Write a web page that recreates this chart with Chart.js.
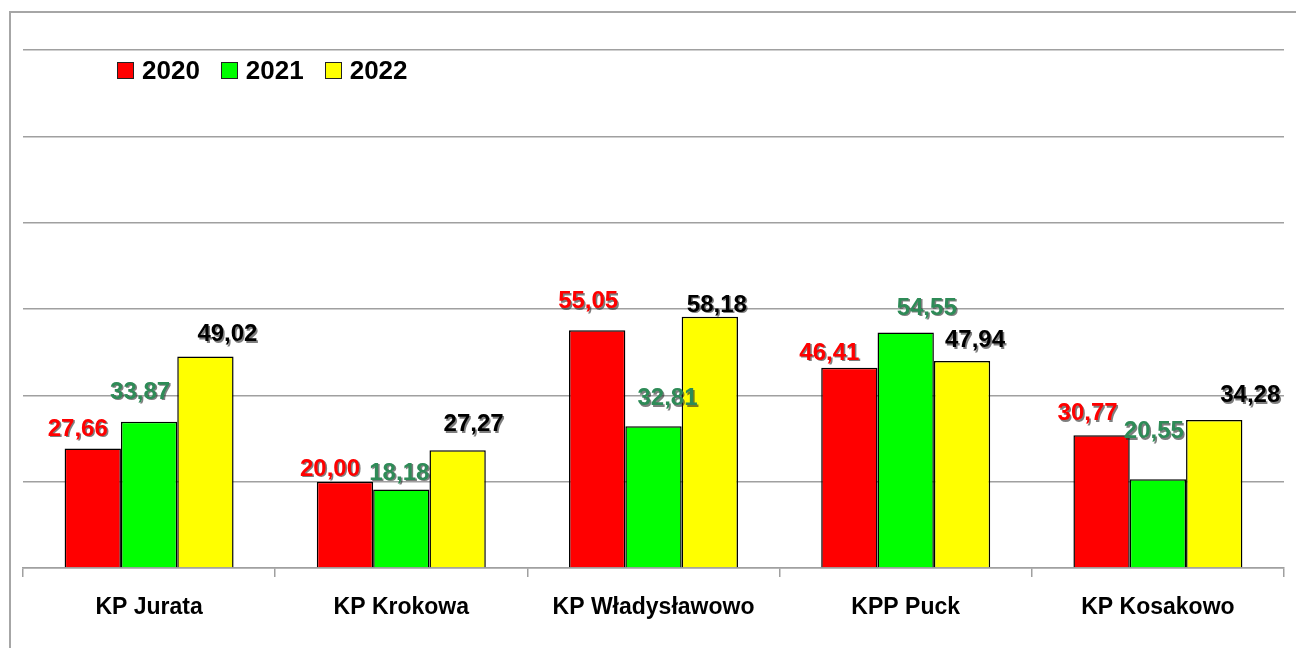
<!DOCTYPE html>
<html>
<head>
<meta charset="utf-8">
<script src="https://cdn.jsdelivr.net/npm/chart.js@4/dist/chart.umd.min.js"></script>
<style>
  body { margin: 0; background: #fff; }
  #wrap { position: relative; width: 1296px; height: 648px; overflow: hidden; }
  #frame { position: absolute; left: 9px; top: 11px; width: 1400px; height: 800px;
           border-left: 2px solid #a6a6a6; border-top: 2px solid #a6a6a6; }
  #legend { position: absolute; left: 117px; top: 55px; display: flex; align-items: center;
            font: bold 26px 'Liberation Sans', Arial, sans-serif; color: #000; }
  #legend span.box { display: inline-block; width: 15px; height: 15px; border: 1px solid #222;
                     margin-right: 8px; }
  #legend span.item { display: inline-flex; align-items: center; margin-right: 21px; }
</style>
</head>
<body>
<div id="wrap">
  <div id="frame"></div>
  <canvas id="myChart" width="1296" height="648"></canvas>
  <div id="legend"></div>
</div>
<script>
var categories = ['KP Jurata', 'KP Krokowa', 'KP Władysławowo', 'KPP Puck', 'KP Kosakowo'];
var years = ['2020', '2021', '2022'];
var values2020 = [27.66, 20.00, 55.05, 46.41, 30.77];
var values2021 = [33.87, 18.18, 32.81, 54.55, 20.55];
var values2022 = [49.02, 27.27, 58.18, 47.94, 34.28];

var barColors = ['#ff0000', '#00ff00', '#ffff00'];
var labelColors = ['#ff0000', '#2e8b57', '#000000'];
// manual nudges of the value labels, like in the original sheet
var labelDx = [[-15, -15, -9, -20, -14], [-9, -2, 14, 21, -4], [22, 16, 7, 13, 36]];
var labelGap = [[13, 6, 22, 8, 15], [23, 10, 21, 18, 41], [15, 19, 5, 14, 18]];

var seriesValues = [values2020, values2021, values2022];

// legend
var legendHtml = '';
years.forEach(function(y, i) {
    legendHtml += '<span class="item"><span class="box" style="background:' + barColors[i] + '"></span>' + y + '</span>';
});
document.getElementById('legend').innerHTML = legendHtml;

var valueLabels = {
    id: 'valueLabels',
    afterDatasetsDraw: function(chart) {
        var ctx = chart.ctx;
        ctx.save();
        ctx.font = 'bold 24px "Liberation Sans", Arial, sans-serif';
        ctx.textAlign = 'center';
        ctx.textBaseline = 'alphabetic';
        chart.data.datasets.forEach(function(ds, di) {
            var meta = chart.getDatasetMeta(di);
            meta.data.forEach(function(bar, i) {
                var txt = ds.data[i].toFixed(2).replace('.', ',');
                var x = bar.x + labelDx[di][i];
                var y = bar.y - labelGap[di][i];
                ctx.fillStyle = 'rgba(40,40,40,0.6)';
                ctx.fillText(txt, x + 1.5, y + 1.5);
                ctx.fillStyle = labelColors[di];
                ctx.fillText(txt, x, y);
            });
        });
        ctx.restore();
    }
};

var ctx = document.getElementById('myChart').getContext('2d');
var chart = new Chart(ctx, {
    type: 'bar',
    data: {
        labels: categories,
        datasets: years.map(function(y, i) {
            return {
                label: y,
                data: seriesValues[i],
                backgroundColor: barColors[i],
                borderColor: '#000',
                borderWidth: 1.5,
                borderSkipped: 'bottom',
                categoryPercentage: 0.67,
                barPercentage: 1.0
            };
        })
    },
    options: {
        responsive: false,
        animation: false,
        layout: { padding: { left: 23, right: 12, top: 50, bottom: 0 } },
        plugins: {
            legend: { display: false },
            tooltip: { enabled: false }
        },
        scales: {
            x: {
                grid: { drawOnChartArea: false, drawTicks: true, tickLength: 9, color: '#a0a0a0', lineWidth: 1.5, offset: true },
                border: { display: true, color: '#a0a0a0', width: 1.5 },
                ticks: {
                    color: '#000',
                    padding: 17,
                    font: { family: '"Liberation Sans", Arial, sans-serif', size: 23, weight: 'bold' }
                },
                afterFit: function(scale) { scale.height = 80; }
            },
            y: {
                min: 0,
                max: 120,
                ticks: { display: false, stepSize: 20 },
                grid: { color: '#a0a0a0', lineWidth: 1.5, drawTicks: false },
                border: { display: false },
                afterFit: function(scale) { scale.width = 0; }
            }
        }
    },
    plugins: [valueLabels]
});
</script>
</body>
</html>
